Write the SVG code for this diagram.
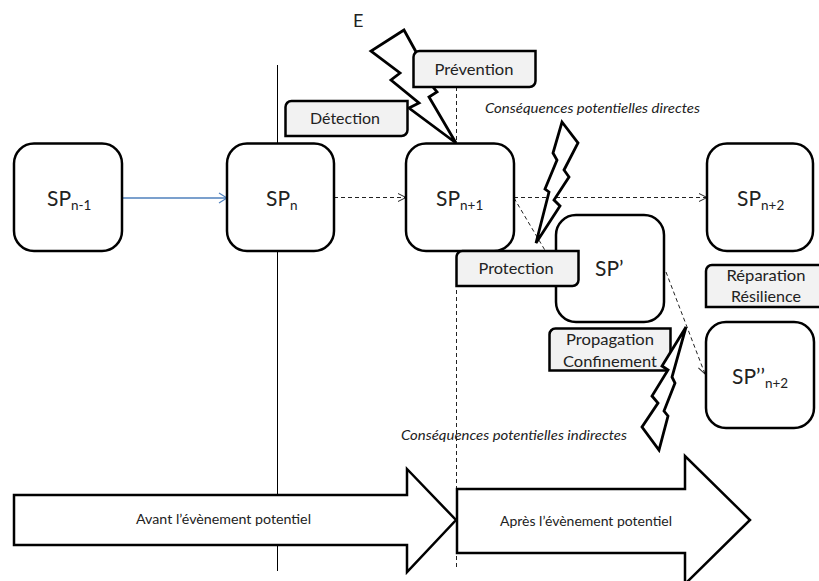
<svg xmlns="http://www.w3.org/2000/svg" width="819" height="581" viewBox="0 0 819 581">
<style>
text{font-family:Lato,"Open Sans","Liberation Sans",sans-serif;fill:#222}
.sp{fill:#fff;stroke:#000;stroke-width:2.5}
.st{font-size:21px}
.sub{font-size:13.500px}
.box{fill:#f2f2f2;stroke:#000;stroke-width:2.5}
.bt{font-size:16px;text-anchor:middle}
.it{font-size:13px;font-style:italic}
.bolt{fill:#fff;stroke:#000;stroke-width:2.800;stroke-linejoin:miter}
.arr{fill:#fff;stroke:#000;stroke-width:2.500}
.at{font-size:13px}
.d{fill:none;stroke:#222;stroke-width:1;stroke-dasharray:4 3}
.v{fill:none;stroke:#000;stroke-width:1}
</style>
<defs>
<marker id="ah" markerWidth="10" markerHeight="10" refX="9" refY="5" orient="auto" markerUnits="userSpaceOnUse"><path d="M1 1L9 5L1 9" fill="none" stroke="#222" stroke-width="1"/></marker>
<marker id="ab" markerWidth="10" markerHeight="12" refX="9" refY="6" orient="auto" markerUnits="userSpaceOnUse"><path d="M1 1L9 6L1 11" fill="none" stroke="#4f81bd" stroke-width="1.200"/></marker>
</defs>
<g id="connectors">
<path class="v" d="M277.500 65V571"/>
<path class="d" d="M456.500 87V570"/>
<path d="M122 198H227" fill="none" stroke="#4f81bd" stroke-width="1.500" marker-end="url(#ab)"/>
<path class="d" d="M334 197.500H406" marker-end="url(#ah)"/>
<path class="d" d="M514 197.500H707" marker-end="url(#ah)"/>
<path class="d" d="M514 198L546 252"/>
<path class="d" d="M666 272L705 374" marker-end="url(#ah)"/>
</g>
<g id="spn-1"><rect class="sp" x="14" y="143.500" width="108" height="107.500" rx="20"/><text class="st" x="47" y="206">SP<tspan class="sub" dy="4">n-1</tspan></text></g>
<g id="spn"><rect class="sp" x="227" y="143.500" width="107" height="107.500" rx="20"/><text class="st" x="266" y="206">SP<tspan class="sub" dy="4">n</tspan></text></g>
<g id="bolt-e"><polygon class="bolt" points="404,30 371,51 400,73 391,80 419,103 409,108 456,143 429,97 437,92 433,87 415,50"/></g>
<g id="spn1"><rect class="sp" x="406" y="143.500" width="108" height="107.500" rx="20"/><text class="st" x="436" y="206">SP<tspan class="sub" dy="4">n+1</tspan></text></g>
<g id="spn2"><rect class="sp" x="707" y="143.500" width="106" height="107.500" rx="20"/><text class="st" x="737" y="206">SP<tspan class="sub" dy="4">n+2</tspan></text></g>
<g id="spprime"><rect class="sp" x="556" y="215" width="108" height="107" rx="20"/><text class="st" x="595" y="276">SP’</text></g>
<g id="spsecond"><rect class="sp" x="706" y="322" width="108" height="106" rx="20"/><text class="st" x="732" y="384">SP’’<tspan class="sub" dy="4">n+2</tspan></text></g>
<g id="detection"><path class="box" d="M291.500 101H407.500V130a6 6 0 0 1-6 6H285.500V107a6 6 0 0 1 6-6Z"/><text class="bt" x="345" y="124" textLength="70" lengthAdjust="spacingAndGlyphs">Détection</text></g>
<g id="prevention"><path class="box" d="M419.500 51H535.500V81a6 6 0 0 1-6 6H413.500V57a6 6 0 0 1 6-6Z"/><text class="bt" x="474" y="75" textLength="79" lengthAdjust="spacingAndGlyphs">Prévention</text></g>
<g id="protection"><path class="box" d="M462.500 251H578.500V280a6 6 0 0 1-6 6H456.500V257a6 6 0 0 1 6-6Z"/><text class="bt" x="516" y="274" textLength="75" lengthAdjust="spacingAndGlyphs">Protection</text></g>
<g id="reparation"><path class="box" d="M712 265H826V307H706V271a6 6 0 0 1 6-6Z"/><text class="bt" x="766" y="281" textLength="79" lengthAdjust="spacingAndGlyphs">Réparation</text><text class="bt" x="766" y="302" textLength="70" lengthAdjust="spacingAndGlyphs">Résilience</text></g>
<g id="propagation"><path class="box" d="M555.500 328.500H670.500V370.500H549.500V334.500a6 6 0 0 1 6-6Z"/><text class="bt" x="610" y="345" textLength="88" lengthAdjust="spacingAndGlyphs">Propagation</text><text class="bt" x="610" y="367" textLength="94" lengthAdjust="spacingAndGlyphs">Confinement</text></g>
<g id="bolt-direct"><polygon class="bolt" points="562,122 578,143 564,170 569,177 554,200 560,206 536,243 549,192 545,189 557,160 553,153"/></g>
<g id="bolt-indirect"><polygon class="bolt" points="686,327 672,377 675,383 664,411 668,416 659,450 642,427 658,403 652,396 668,370 662,366"/></g>
<text x="353" y="27" font-size="18">E</text>
<text class="it" x="485" y="113" textLength="215" lengthAdjust="spacingAndGlyphs">Conséquences potentielles directes</text>
<text class="it" x="401" y="440" textLength="226" lengthAdjust="spacingAndGlyphs">Conséquences potentielles indirectes</text>
<g id="avant"><polygon class="arr" points="14,495 407,495 407,469 456,520 407,572 407,545 14,545"/><text class="at" x="136" y="524" textLength="175" lengthAdjust="spacingAndGlyphs">Avant l’évènement potentiel</text></g>
<g id="apres"><polygon class="arr" points="457,489 685,489 685,456 750,520 685,584 685,553 457,553"/><text class="at" x="500" y="526" textLength="172" lengthAdjust="spacingAndGlyphs">Après l’évènement potentiel</text></g>
</svg>
